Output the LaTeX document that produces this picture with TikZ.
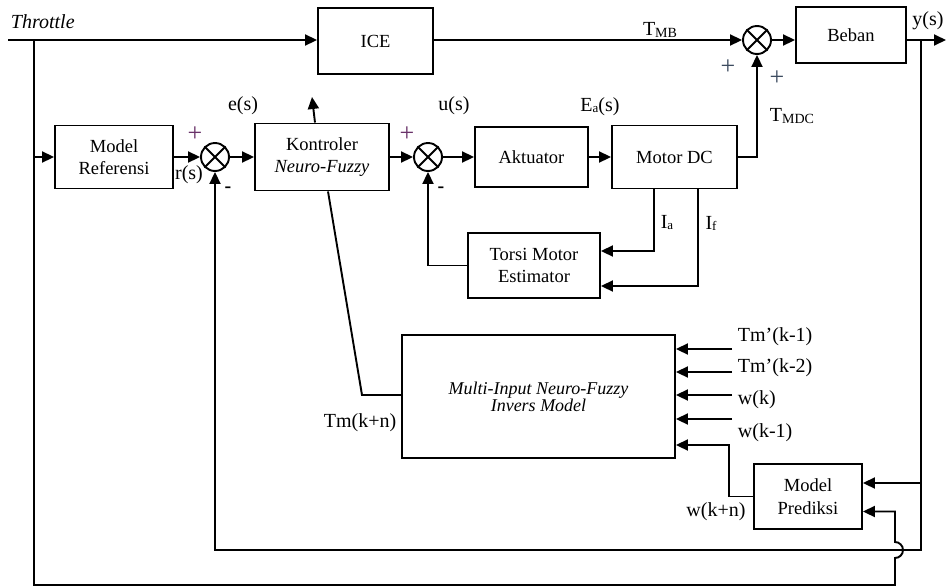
\documentclass[tikz,border=0pt]{standalone}
\usepackage{fontspec}
\setmainfont{Liberation Serif}
\usetikzlibrary{arrows.meta,calc}
\definecolor{plusA}{RGB}{105,50,105}
\definecolor{plusB}{RGB}{60,75,95}
\begin{document}
\begin{tikzpicture}[x=1pt,y=-1pt, line width=1.9pt,
  blk/.style={draw, rectangle, align=center, font=\fontsize{18.5}{22.5}\selectfont, inner sep=0pt},
  sumn/.style={draw, circle, minimum size=28pt, inner sep=0pt},
  arr/.style={-{Triangle[length=12pt,width=11pt]}},
  lbl/.style={font=\fontsize{20}{22}\selectfont, inner sep=0pt},
  plbl/.style={font=\fontsize{26}{26}\selectfont, inner sep=0pt},
  mlbl/.style={font=\fontsize{20}{22}\selectfont\bfseries, inner sep=0pt}
]
\useasboundingbox (0,0) rectangle (946,587);

% blocks
\node[blk, minimum width=115pt, minimum height=66pt] (ice) at (375.5,41) {ICE};
\node[blk, minimum width=110pt, minimum height=56pt] (beban) at (851,35) {Beban};
\node[blk, minimum width=118pt, minimum height=63pt] (mref) at (114,157) {Model\\Referensi};
\node[sumn] (s1) at (215,157) {};
\node[blk, minimum width=134pt, minimum height=67pt] (kon) at (322,157) {Kontroler\\\textit{Neuro-Fuzzy}};
\node[sumn] (s2) at (428,157) {};
\node[blk, minimum width=113pt, minimum height=60pt] (akt) at (531.5,157) {Aktuator};
\node[blk, minimum width=125pt, minimum height=63pt] (mdc) at (674.5,157) {Motor DC};
\node[sumn] (s3) at (757,40) {};
\node[blk, minimum width=132pt, minimum height=65pt] (tor) at (534,265.5) {Torsi Motor\\Estimator};
\node[blk, minimum width=273pt, minimum height=123pt, font=\fontsize{18}{17}\selectfont\itshape] (minf) at (538.5,396.5) {Multi-Input Neuro-Fuzzy\\Invers Model};
\node[blk, minimum width=108pt, minimum height=65pt] (pred) at (808,496.5) {Model\\Prediksi};

% crosses in summing junctions
\foreach \s in {s1,s2,s3}{
  \draw (\s.north west) -- (\s.south east) (\s.north east) -- (\s.south west);
}

% coordinates
\coordinate (thr) at (8,40);
\coordinate (b1) at (34,40);
\coordinate (b2) at (34,157);
\coordinate (bl) at (34,585);
\coordinate (br) at (895,585);
\coordinate (yb) at (921,40);
\coordinate (yend) at (946,40);
\coordinate (fb) at (921,550);
\coordinate (fbl) at (215,550);
\coordinate (yb2) at (921,483);
\coordinate (ktip) at (312,97);
\coordinate (tmk) at (362,395);
\coordinate (i1) at (732,349);
\coordinate (i2) at (732,372);
\coordinate (i3) at (732,395);
\coordinate (i4) at (732,419);
\coordinate (wkn) at (729,445);

% connectors
\draw[arr] (thr) -- (thr -| ice.west);
\draw[arr] (b1) -- (bl) -- (br) -- ++(0,-27) arc[start angle=-90,end angle=90,radius=8pt] |- ([yshift=-15pt]pred.east);
\draw[arr] (b2) -- (mref.west);
\draw[arr] (mref.east) -- (s1.west);
\draw[arr] (s1.east) -- (kon.west);
\draw[arr] (kon.east) -- (s2.west);
\draw[arr] (s2.east) -- (akt.west);
\draw[arr] (akt.east) -- (mdc.west);
\draw[arr] (mdc.east) -| (s3.south);
\draw[arr] (ice.east |- s3.west) -- (s3.west);
\draw[arr] (s3.east) -- (s3.east -| beban.west);
\draw[arr] (beban.east |- yend) -- (yend);
\draw[arr] (yb) -- (fb) -- (fbl) -- (s1.south);
\draw[arr] (yb2) -- ([yshift=13.5pt]pred.east);
\draw[arr] ([xshift=-7pt]kon.north) -- (ktip);
\draw ([xshift=6pt]kon.south) -- (tmk) -- (tmk -| minf.west);
\draw[arr] ([xshift=-20.5pt]mdc.south) |- ([yshift=14.5pt]tor.east);
\draw[arr] ([xshift=23.5pt]mdc.south) |- ([yshift=-20.5pt]tor.east);
\draw[arr] (tor.west) -| (s2.south);
\foreach \i in {i1,i2,i3,i4}{ \draw[arr] (\i) -- (\i -| minf.east); }
\draw[arr] (pred.west) -| (wkn) -- (wkn -| minf.east);

% labels
\node[lbl, anchor=west] (lthr) at (10,22) {\textit{Throttle}};
\node[plbl, text=plusA] (p1) at (195,134) {+};
\node[lbl] (lrs) at (189,175) {r(s)};
\node[mlbl] (m1) at (228,190) {-};
\node[lbl] (les) at (243,106) {e(s)};
\node[plbl, text=plusA] (p2) at (407,134) {+};
\node[mlbl] (m2) at (441,190) {-};
\node[lbl] (lus) at (454,106) {u(s)};
\node[lbl] (lea) at (600,107) {E\raisebox{-1pt}{\fontsize{13}{13}\selectfont a}(s)};
\node[lbl] (ltmb) at (660,30) {T\raisebox{-1.5pt}{\fontsize{14}{14}\selectfont MB}};
\node[plbl, text=plusB] (p3) at (728,67) {+};
\node[plbl, text=plusB] (p4) at (777,78) {+};
\node[lbl] (ltmdc) at (792,116) {T\raisebox{-1.5pt}{\fontsize{14}{14}\selectfont MDC}};
\node[lbl] (lys) at (928,21) {y(s)};
\node[lbl] (lia) at (667,223) {I\raisebox{-1pt}{\fontsize{13}{13}\selectfont a}};
\node[lbl] (lif) at (711,223) {I\raisebox{-1pt}{\fontsize{13}{13}\selectfont f}};
\node[lbl] (ltmk) at (360,423) {Tm(k+n)};
\node[lbl] (lwkn) at (716,512) {w(k+n)};
\node[lbl, anchor=west] (l1) at (737,337) {Tm’(k-1)};
\node[lbl, anchor=west] (l2) at (737,368) {Tm’(k-2)};
\node[lbl, anchor=west] (l3) at (737,400) {w(k)};
\node[lbl, anchor=west] (l4) at (737,433) {w(k-1)};
\end{tikzpicture}
\end{document}
